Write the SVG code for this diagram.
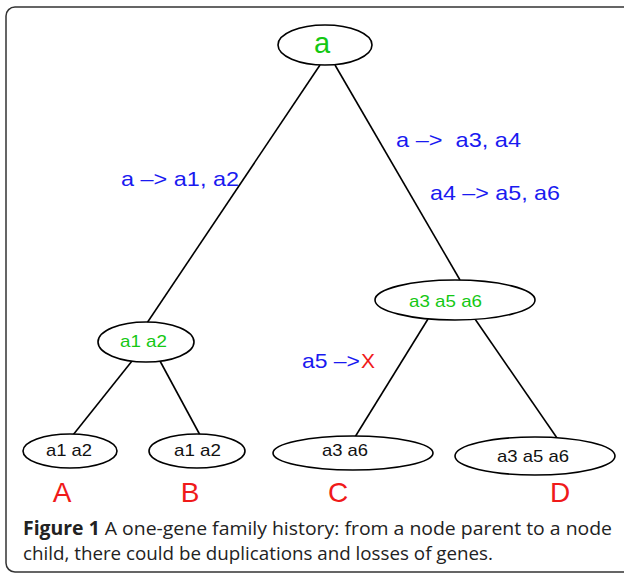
<svg xmlns="http://www.w3.org/2000/svg" width="624" height="574" viewBox="0 0 624 574">
<style>
.node{fill:#fff;stroke:#000;stroke-width:1.6}
.edge{stroke:#000;stroke-width:1.6;fill:none}
.g{fill:#14c814;font-family:"Liberation Sans",Arial,sans-serif}
.k{fill:#111;font-family:"Liberation Sans",Arial,sans-serif;font-size:17px}
.b{fill:#1a1af0;font-family:"Liberation Sans",Arial,sans-serif;font-size:21px}
.r{fill:#f01a1a;font-family:"Liberation Sans",Arial,sans-serif}
.lab{fill:#f01a1a;font-family:"Liberation Sans",Arial,sans-serif;font-size:28px;text-anchor:middle}
.cap{fill:#222;font-family:"Open Sans","Noto Sans",sans-serif;font-size:19px}
</style>
<rect x="6" y="7" width="640" height="565" rx="9" fill="#fff" stroke="#333" stroke-width="1.5"/>
<g id="connectors">
<line class="edge" x1="320" y1="65" x2="147" y2="323"/>
<line class="edge" x1="335" y1="65" x2="460" y2="280"/>
<line class="edge" x1="132" y1="361" x2="73" y2="435"/>
<line class="edge" x1="160" y1="361" x2="200" y2="435"/>
<line class="edge" x1="428" y1="319" x2="355" y2="437"/>
<line class="edge" x1="475" y1="319" x2="557" y2="438"/>
</g>
<g id="root">
<ellipse class="node" cx="325" cy="45" rx="47" ry="20"/>
<text class="g" x="322" y="53" font-size="29" text-anchor="middle">a</text>
</g>
<g id="n_a1a2">
<ellipse class="node" cx="146" cy="342" rx="48" ry="20"/>
<text class="g" x="120" y="347" font-size="17" textLength="47" lengthAdjust="spacingAndGlyphs">a1 a2</text>
</g>
<g id="n_a3a5a6">
<ellipse class="node" cx="455" cy="300" rx="80" ry="20"/>
<text class="g" x="409" y="307" font-size="17" textLength="73" lengthAdjust="spacingAndGlyphs">a3 a5 a6</text>
</g>
<g id="leaf_A">
<ellipse class="node" cx="70" cy="451" rx="47" ry="17"/>
<text class="k" x="46" y="456" textLength="46" lengthAdjust="spacingAndGlyphs">a1 a2</text>
</g>
<g id="leaf_B">
<ellipse class="node" cx="197" cy="451" rx="48" ry="17"/>
<text class="k" x="174" y="456" textLength="47" lengthAdjust="spacingAndGlyphs">a1 a2</text>
</g>
<g id="leaf_C">
<ellipse class="node" cx="353" cy="453" rx="80" ry="17"/>
<text class="k" x="322" y="456" textLength="46" lengthAdjust="spacingAndGlyphs">a3 a6</text>
</g>
<g id="leaf_D">
<ellipse class="node" cx="535" cy="456" rx="80" ry="19"/>
<text class="k" x="497" y="462" textLength="72" lengthAdjust="spacingAndGlyphs">a3 a5 a6</text>
</g>
<g id="edge_labels">
<text class="b" x="121" y="186" textLength="118" lengthAdjust="spacingAndGlyphs">a –&gt; a1, a2</text>
<text class="b" x="396" y="147" textLength="125" lengthAdjust="spacingAndGlyphs" xml:space="preserve">a –&gt;  a3, a4</text>
<text class="b" x="430" y="200" textLength="130" lengthAdjust="spacingAndGlyphs">a4 –&gt; a5, a6</text>
<text class="b" x="302" y="368" textLength="58" lengthAdjust="spacingAndGlyphs">a5 –&gt;</text>
<text class="r" x="361" y="368" font-size="21" textLength="14" lengthAdjust="spacingAndGlyphs">X</text>
</g>
<g id="leaf_labels">
<text class="lab" x="62" y="502">A</text>
<text class="lab" x="190" y="502">B</text>
<text class="lab" x="338" y="502">C</text>
<text class="lab" x="560" y="502">D</text>
</g>
<g id="caption">
<text class="cap" x="23" y="535" textLength="589" lengthAdjust="spacingAndGlyphs"><tspan font-weight="bold">Figure 1</tspan> A one-gene family history: from a node parent to a node</text>
<text class="cap" x="23" y="560" textLength="470" lengthAdjust="spacingAndGlyphs">child, there could be duplications and losses of genes.</text>
</g>
</svg>
